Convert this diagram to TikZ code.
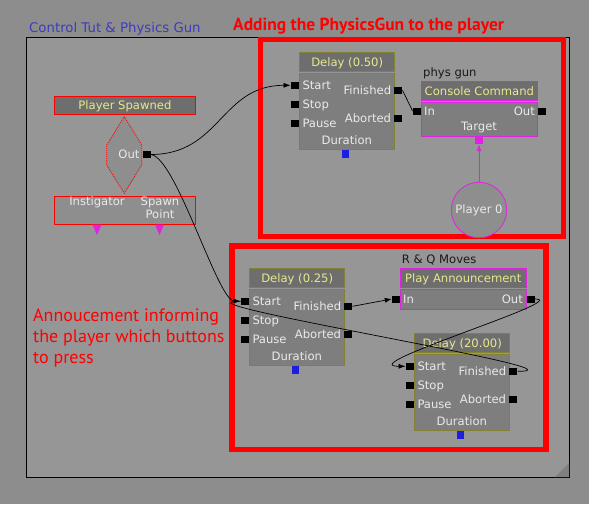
\documentclass[tikz,border=0pt]{standalone}
\usepackage{fontspec}
\setmainfont{DejaVu Sans}
\newfontfamily\ptsans{PT Sans}
\usetikzlibrary{arrows.meta}
\definecolor{outerbg}{RGB}{141,141,141}
\definecolor{panel}{RGB}{150,150,150}
\definecolor{hdrfill}{RGB}{110,110,110}
\definecolor{bodyfill}{RGB}{126,126,126}
\definecolor{ytxt}{RGB}{232,232,140}
\definecolor{ltxt}{RGB}{234,234,234}
\definecolor{kolive}{RGB}{130,130,50}
\definecolor{kmag}{RGB}{222,36,222}
\definecolor{kblue}{RGB}{30,30,225}
\definecolor{ktitle}{RGB}{60,60,195}
\definecolor{darktxt}{RGB}{25,25,25}
\definecolor{hexfill}{RGB}{142,142,142}
\definecolor{gripc}{RGB}{128,128,128}
\newcommand\knfont{\fontsize{11.6}{13}\selectfont}
\tikzset{
  hdr/.style={draw=kolive, fill=hdrfill, text=ytxt, font=\knfont, anchor=north west,
    inner sep=0pt, minimum height=19pt, line width=0.8pt, text height=8.3pt, text depth=0pt},
  bodybox/.style={draw=kolive, fill=bodyfill, anchor=north west, inner sep=0pt, line width=0.8pt},
  port/.style={fill=black, inner sep=0pt, minimum width=8pt, minimum height=7pt},
  lbl/.style={text=ltxt, font=\knfont, inner sep=0pt, text height=8.3pt, text depth=0pt},
  conn/.style={black, line width=0.7pt},
  tip/.style={-{Latex[length=7pt,width=5pt]}},
  redframe/.style={red, line width=5.5pt},
}
% name, X, Y, label
\newcommand\kdelay[4]{%
  \node[hdr, minimum width=95pt] (#1h) at (#2,#3) {#4};
  \node[bodybox, minimum width=95pt, minimum height=76pt] (#1b) at (#2,#3+21) {};
  \node[port] (#1start) at (#2-4.5,#3+33) {};
  \node[port] (#1stop) at (#2-4.5,#3+52) {};
  \node[port] (#1pause) at (#2-4.5,#3+71) {};
  \node[port] (#1fin) at (#2+99,#3+38) {};
  \node[port] (#1abt) at (#2+99,#3+66.5) {};
  \node[fill=kblue, inner sep=0pt, minimum width=7pt, minimum height=8pt] (#1dur) at (#2+46.5,#3+102) {};
  \node[lbl, anchor=west] (#1startl) at (#2+3,#3+33) {Start};
  \node[lbl, anchor=west] (#1stopl) at (#2+3,#3+52) {Stop};
  \node[lbl, anchor=west] (#1pausel) at (#2+3,#3+71) {Pause};
  \node[lbl, anchor=east] (#1finl) at (#2+92,#3+38) {Finished};
  \node[lbl, anchor=east] (#1abtl) at (#2+92,#3+66.5) {Aborted};
  \node[lbl] (#1durl) at (#2+47.5,#3+88) {Duration};
}
\begin{document}
\begin{tikzpicture}[x=1pt,y=-1pt]
\useasboundingbox (0,0) rectangle (589,504);
\fill[outerbg] (0,0) rectangle (589,504);
\draw[black, line width=1pt, fill=panel] (26,37.5) rectangle (569.5,477.5);
\fill[gripc] (555,477) -- (569,477) -- (569,463) -- cycle;

% titles and notes
\node[text=ktitle, font=\fontsize{13.3}{15}\selectfont, anchor=base west, inner sep=0pt] (title) at (29,32) {Control Tut \& Physics Gun};
\node[text=red, font=\ptsans\bfseries\fontsize{17.5}{20}\selectfont, anchor=base west, inner sep=0pt] (heading) at (233,30) {Adding the PhysicsGun to the player};
\node[text=red, font=\ptsans\fontsize{18}{21}\selectfont, anchor=base west, inner sep=0pt] (note1) at (33,321) {Annoucement informing};
\node[text=red, font=\ptsans\fontsize{18}{21}\selectfont, anchor=base west, inner sep=0pt] (note2) at (33,342) {the player which buttons};
\node[text=red, font=\ptsans\fontsize{18}{21}\selectfont, anchor=base west, inner sep=0pt] (note3) at (33,363) {to press};

% red highlight frames
\draw[redframe] (260.5,39.5) rectangle (563.5,236.5);
\draw[redframe] (232,245.8) rectangle (546,449.5);

% Player Spawned event
\node[hdr, draw=red, minimum width=141pt, minimum height=18pt] (psh) at (54,96) {Player Spawned};
\draw[red, line width=0.8pt, dash pattern=on 1pt off 1pt, fill=hexfill]
  (124.3,116.7) -- (141.7,145) -- (141.7,165) -- (124.3,193.3) -- (106.7,165) -- (106.7,145) -- cycle;
\node[lbl] (psoutl) at (129,154.5) {Out};
\node[port] (psout) at (146.5,154.5) {};
\node[draw=red, fill=hexfill, line width=0.8pt, minimum width=141pt, minimum height=28.3pt, anchor=north west, inner sep=0pt] (psvars) at (54,196) {};
\node[lbl] (instl) at (97,201) {Instigator};
\node[lbl] (spawnl) at (160,201) {Spawn};
\node[lbl] (pointl) at (160,214) {Point};
\fill[kmag] (92.5,224.5) -- (101.5,224.5) -- (97,235) -- cycle;
\fill[kmag] (155,224.5) -- (164,224.5) -- (159.5,235) -- cycle;

% Delays
\kdelay{da}{299.3}{52.3}{Delay (0.50)}
\kdelay{db}{249.3}{268.3}{Delay (0.25)}
\kdelay{dc}{414.3}{333.3}{Delay (20.00)}

% Console Command
\node[text=darktxt, font=\knfont, anchor=west, inner sep=0pt, text height=8pt, text depth=0pt] (physgun) at (423,72) {phys gun};
\node[hdr, draw=kmag, minimum width=116pt, minimum height=19.3pt] (cch) at (421,81) {Console Command};
\node[bodybox, draw=kmag, minimum width=116pt, minimum height=33.7pt] (ccb) at (421,102) {};
\node[port] (ccin) at (416.8,111) {};
\node[port] (ccout) at (541.5,111) {};
\node[lbl, anchor=west] (ccinl) at (424,111) {In};
\node[lbl, anchor=east] (ccoutl) at (535,111) {Out};
\node[lbl] (cctgtl) at (479,126) {Target};
\node[fill=kmag, inner sep=0pt, minimum size=8pt] (cctgt) at (479,140) {};
\node[circle, draw=kmag, fill=hexfill, line width=0.8pt, minimum size=55.5pt, inner sep=0pt, text=ltxt, font=\knfont] (p0) at (479,210) {Player 0};

% Play Announcement
\node[text=darktxt, font=\knfont, anchor=west, inner sep=0pt, text height=8pt, text depth=0pt] (rq) at (401.7,259) {R \& Q Moves};
\node[hdr, draw=kmag, minimum width=125.7pt] (pah) at (400,268.3) {Play Announcement};
\node[bodybox, draw=kmag, minimum width=125.7pt, minimum height=19.7pt] (pab) at (400,289.3) {};
\node[port] (pain) at (396,299) {};
\node[port] (paout) at (530.5,299) {};
\node[lbl, anchor=west] (painl) at (403,299) {In};
\node[lbl, anchor=east] (paoutl) at (523,299) {Out};

% connectors
\draw[conn, tip] (psout.east) .. controls +(70,0) and +(-70,0) .. (dastart.west);
\draw[conn, tip] (psout.east) .. controls +(25,2) and +(-23,-1) .. (dbstart.west);
\draw[conn] (dafin.east) -- (ccin.west);
\draw[conn, tip] (dbfin.east) -- (pain.west);
\draw[conn, tip] (paout.east) .. controls +(40,0) and +(-55,0) .. (dcstart.west);
\draw[conn] (dcfin.east) .. controls +(82,0) and +(-80,0) .. (dbstart.west);
\draw[kmag, line width=0.8pt, tip] (p0.north) -- (cctgt.south);
\end{tikzpicture}
\end{document}
